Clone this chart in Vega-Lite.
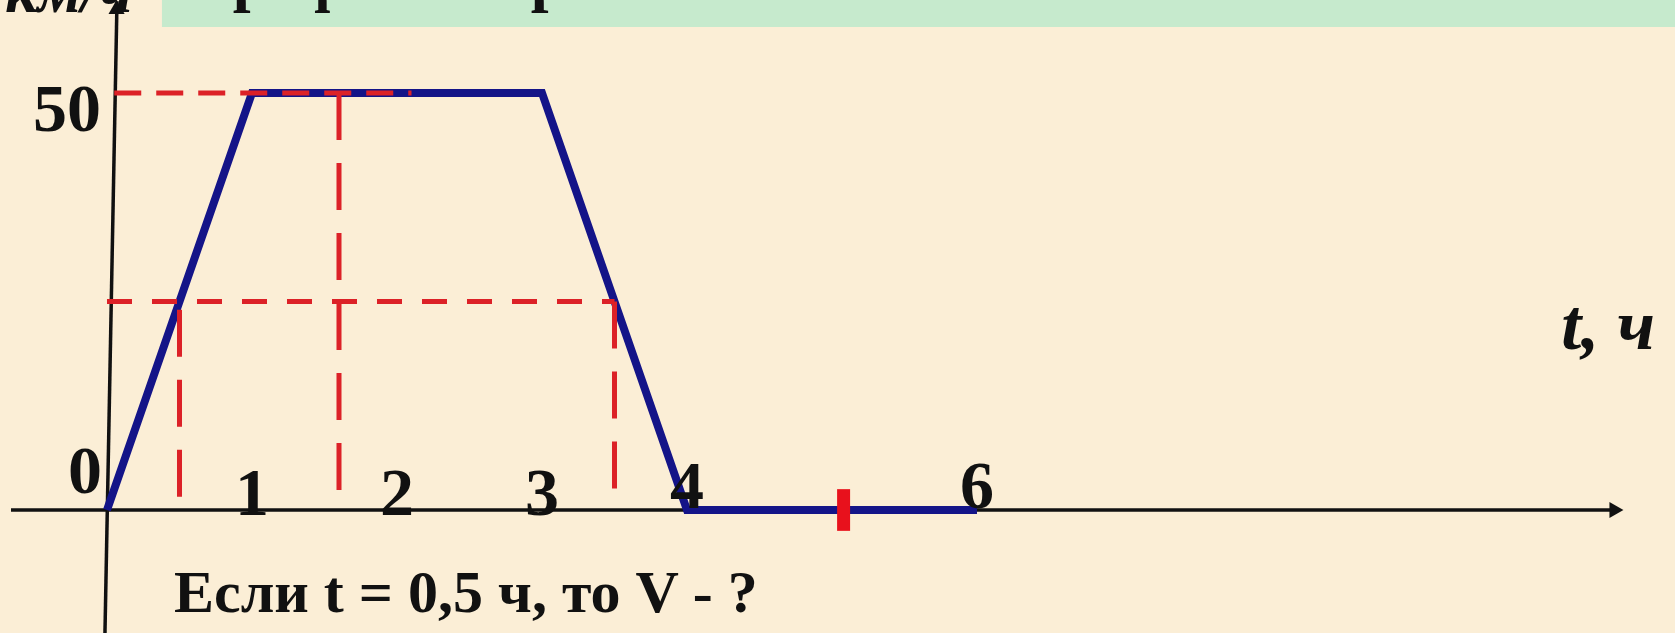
{
  "$schema": "https://vega.github.io/schema/vega-lite/v6.json",
  "width": 1675,
  "height": 633,
  "padding": 0,
  "autosize": {"type": "none"},
  "background": "#fbeed6",
  "config": {"view": {"stroke": null}},
  "datasets": {
    "speed": [
      {"t": 0, "v": 0},
      {"t": 1, "v": 50},
      {"t": 3, "v": 50},
      {"t": 4, "v": 0},
      {"t": 6, "v": 0}
    ],
    "axes": [
      {"t": -0.662, "t2": 10.4, "v": 0, "v2": 0},
      {"t": -0.014, "t2": 0.069, "v": -14.75, "v2": 61.0}
    ],
    "arrows": [
      {"t": 10.41, "v": 0, "dir": "triangle-right"},
      {"t": 0.066, "v": 60.3, "dir": "triangle-up"}
    ],
    "guideH50": [{"t": 0.05, "t2": 2.1, "v": 50, "v2": 50}],
    "guideH25": [{"t": 0.0, "t2": 3.5, "v": 25, "v2": 25}],
    "guideV": [
      {"t": 0.5, "t2": 0.5, "v": 24, "v2": 1.0},
      {"t": 1.6, "t2": 1.6, "v": 50, "v2": 1.5},
      {"t": 3.5, "t2": 3.5, "v": 25, "v2": 1.0}
    ],
    "mark5": [{"t": 5.08, "t2": 5.08, "v": 2.5, "v2": -2.5}],
    "band": [{"t": 0.379, "t2": 10.9, "v": 61.4, "v2": 57.9}],
    "digits": [
      {"label": "50", "t": -0.276, "v": 45.4},
      {"label": "0", "t": -0.152, "v": 2.0},
      {"label": "1", "t": 1, "v": -0.6},
      {"label": "2", "t": 2, "v": -0.6},
      {"label": "3", "t": 3, "v": -0.6},
      {"label": "4", "t": 4, "v": 0.2},
      {"label": "6", "t": 6, "v": 0.2}
    ],
    "axisTitle": [{"label": "t, ч", "t": 10.03, "v": 19.3}],
    "unitTitle": [{"label": "км/ч", "t": -0.703, "v": 59.7}],
    "heading": [{"label": "График скорости", "t": 0.614, "v": 61.27}],
    "question": [{"label": "Если t = 0,5 ч, то V - ?", "t": 0.462, "v": -12.23}]
  },
  "encoding": {
    "x": {"field": "t", "type": "quantitative", "axis": null,
          "scale": {"domain": [-0.7379, 10.8138], "nice": false, "zero": false}},
    "y": {"field": "v", "type": "quantitative", "axis": null,
          "scale": {"domain": [-14.748, 61.151], "nice": false, "zero": false}}
  },
  "layer": [
    {
      "data": {"name": "band"},
      "mark": {"type": "rect", "color": "#c6eacd"},
      "encoding": {"x2": {"field": "t2"}, "y2": {"field": "v2"}}
    },
    {
      "data": {"name": "heading"},
      "mark": {"type": "text", "align": "left", "baseline": "alphabetic",
               "font": "Liberation Serif", "fontWeight": "bold", "fontSize": 64, "color": "#111111"},
      "encoding": {"text": {"field": "label"}}
    },
    {
      "data": {"name": "axes"},
      "mark": {"type": "rule", "color": "#111111", "strokeWidth": 3.5},
      "encoding": {"x2": {"field": "t2"}, "y2": {"field": "v2"}}
    },
    {
      "data": {"name": "arrows"},
      "mark": {"type": "point", "filled": true, "color": "#111111", "opacity": 1, "size": 260},
      "encoding": {"shape": {"field": "dir", "type": "nominal", "scale": null, "legend": null}}
    },
    {
      "data": {"name": "unitTitle"},
      "mark": {"type": "text", "align": "left", "baseline": "alphabetic",
               "font": "Liberation Serif", "fontWeight": "bold", "fontStyle": "italic", "fontSize": 64, "color": "#111111"},
      "encoding": {"text": {"field": "label"}}
    },
    {
      "data": {"name": "axisTitle"},
      "mark": {"type": "text", "align": "left", "baseline": "alphabetic",
               "font": "Liberation Serif", "fontWeight": "bold", "fontStyle": "italic", "fontSize": 72, "color": "#111111"},
      "encoding": {"text": {"field": "label"}}
    },
    {
      "data": {"name": "speed"},
      "mark": {"type": "line", "color": "#141488", "strokeWidth": 8, "strokeJoin": "miter", "strokeCap": "butt"}
    },
    {
      "data": {"name": "guideH50"},
      "mark": {"type": "rule", "color": "#dc2127", "strokeWidth": 5, "strokeDash": [27, 15]},
      "encoding": {"x2": {"field": "t2"}}
    },
    {
      "data": {"name": "guideH25"},
      "mark": {"type": "rule", "color": "#dc2127", "strokeWidth": 5, "strokeDash": [25, 20]},
      "encoding": {"x2": {"field": "t2"}}
    },
    {
      "data": {"name": "guideV"},
      "mark": {"type": "rule", "color": "#dc2127", "strokeWidth": 5, "strokeDash": [47, 23]},
      "encoding": {"y2": {"field": "v2"}}
    },
    {
      "data": {"name": "mark5"},
      "mark": {"type": "rule", "color": "#e8111c", "strokeWidth": 13},
      "encoding": {"y2": {"field": "v2"}}
    },
    {
      "data": {"name": "digits"},
      "mark": {"type": "text", "align": "center", "baseline": "alphabetic",
               "font": "Liberation Serif", "fontWeight": "bold", "fontSize": 68, "color": "#111111"},
      "encoding": {"text": {"field": "label"}}
    },
    {
      "data": {"name": "question"},
      "mark": {"type": "text", "align": "left", "baseline": "alphabetic",
               "font": "Liberation Serif", "fontWeight": "bold", "fontSize": 60, "color": "#111111"},
      "encoding": {"text": {"field": "label"}}
    }
  ]
}
